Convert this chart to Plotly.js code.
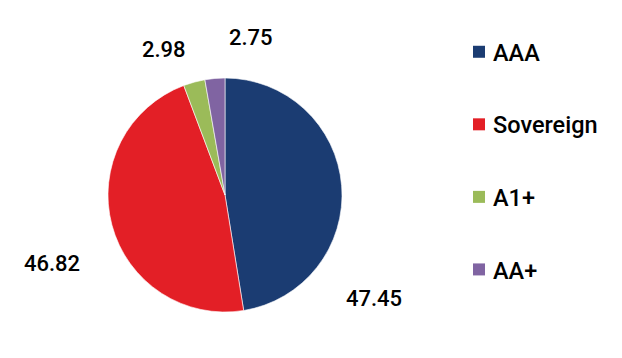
<!DOCTYPE html>
<html>
<head>
<meta charset="utf-8">
<script src="https://cdn.plot.ly/plotly-3.0.1.min.js"></script>
<style>html,body{margin:0;padding:0;background:#fff;}#chart{width:622px;height:358px;}</style>
</head>
<body>
<div id="chart"></div>
<script>
const categories = ['AAA', 'Sovereign', 'A1+', 'AA+'];
const values = [47.45, 46.82, 2.98, 2.75];
const colors = ['#1B3C72', '#E31F26', '#9BBB59', '#8064A2'];
const valueLabels = ['47.45', '46.82', '2.98', '2.75'];

// label anchor positions in pixels (layout only)
const labelPos = [[374, 298], [52, 263], [164, 49], [251, 37]];

const W = 622, H = 358;
const FONT = 'Roboto, "Noto Sans", sans-serif';

const traces = [{
  type: 'pie',
  values: values,
  labels: categories,
  sort: false,
  direction: 'clockwise',
  rotation: 0,
  textinfo: 'none',
  hoverinfo: 'label+value',
  marker: {colors: colors, line: {color: '#ffffff', width: 0.6}},
  domain: {x: [108 / W, 342 / W], y: [46 / H, 280 / H]},
  showlegend: false
}];

categories.forEach((c, i) => {
  traces.push({
    type: 'scatter',
    mode: 'markers',
    x: [null], y: [null],
    name: c,
    legendgroup: 'g' + i,
    marker: {symbol: 'square', size: 12, color: colors[i]},
    showlegend: true,
    hoverinfo: 'skip'
  });
});

const annotations = valueLabels.map((t, i) => ({
  text: t,
  x: labelPos[i][0] / W,
  y: 1 - labelPos[i][1] / H,
  xref: 'paper', yref: 'paper',
  xanchor: 'center', yanchor: 'middle',
  showarrow: false,
  font: {family: FONT, size: 22, color: '#000', weight: 500}
}));

const layout = {
  width: W, height: H,
  margin: {l: 0, r: 0, t: 0, b: 0},
  paper_bgcolor: '#fff',
  plot_bgcolor: 'rgba(0,0,0,0)',
  font: {family: FONT, color: '#000'},
  xaxis: {visible: false, domain: [0.99, 1]},
  yaxis: {visible: false, domain: [0.99, 1]},
  showlegend: true,
  legend: {
    x: 459 / W, y: 1 - 30 / H,
    xanchor: 'left', yanchor: 'top',
    font: {family: FONT, size: 23.5, color: '#000', weight: 500},
    tracegroupgap: 39,
    itemwidth: 30,
    bgcolor: 'rgba(0,0,0,0)'
  },
  annotations: annotations
};

Plotly.newPlot('chart', traces, layout, {displayModeBar: false, staticPlot: true}).then(() => {
  document.querySelectorAll('#chart .legendtext').forEach(t => t.setAttribute('x', 34));
});
</script>
</body>
</html>
